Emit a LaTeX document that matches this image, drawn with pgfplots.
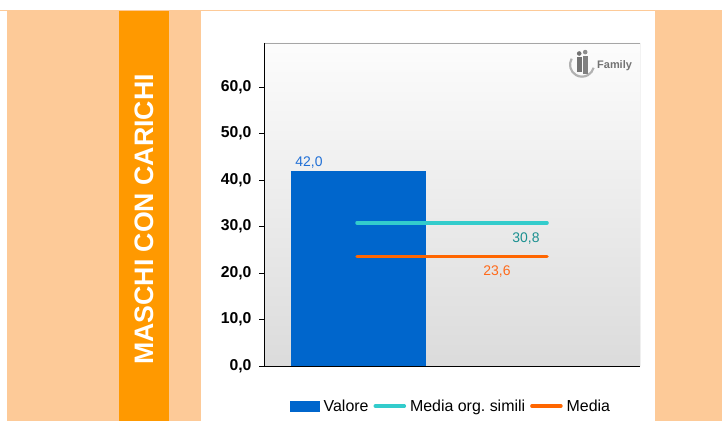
\documentclass[border=0pt]{standalone}
\usepackage{pgfplots}
\pgfplotsset{compat=1.18}
\usepackage{fontspec}
\setmainfont{Liberation Sans}
\frenchspacing
\definecolor{peach}{HTML}{FDCA98}
\definecolor{bandorange}{HTML}{FF9900}
\definecolor{barblue}{HTML}{0066CC}
\definecolor{lcyan}{HTML}{33CCCC}
\definecolor{lorange}{HTML}{FF6600}
\definecolor{tblue}{HTML}{1F6FD6}
\definecolor{tteal}{HTML}{1A9090}
\definecolor{torange}{HTML}{FF6A1A}
\begin{document}
\begin{tikzpicture}[x=1bp,y=1bp]
\path[use as bounding box] (0,0) rectangle (722,421);
\fill[white] (0,0) rectangle (722,421);
\fill[peach] (7,0) rectangle (201,410);
\fill[peach] (655,0) rectangle (722,410);
\fill[bandorange] (119,0) rectangle (169,410);
\draw[peach, line width=1bp] (0,410) -- (722,410);
\node[rotate=90, text=white, font=\bfseries\fontsize{26.8}{27}\selectfont, inner sep=0pt] at (144,201.5) {MASCHI CON CARICHI};
\begin{axis}[
  scale only axis,
  width=376bp, height=323bp,
  at={(264bp,55bp)}, anchor=south west,
  xmin=0, xmax=376, ymin=0, ymax=69.46,
  axis line style={draw=none},
  axis background/.style={top color=black!1, bottom color=black!14},
  xtick=\empty,
  ytick={0,10,20,30,40,50,60},
  ytick pos=left,
  tick align=outside,
  major tick length=5bp,
  ytick style={draw=black, line width=0.8bp},
  /pgf/number format/assume math mode=true,
  yticklabel={\pgfmathprintnumber[fixed,fixed zerofill,precision=1,use comma]{\tick}},
  yticklabel style={font=\bfseries\fontsize{15.8}{16}\selectfont, xshift=-4bp},
  legend columns=3,
  legend style={draw=none, fill=none, at={(0.497,-0.124)}, anchor=center,
    font=\fontsize{16}{16}\selectfont, inner sep=0pt,
    /tikz/every even column/.append style={column sep=3bp},
    /tikz/every odd column/.append style={column sep=2bp}},
  legend cell align=left,
]
\addplot[ybar, bar width=135, fill=barblue, draw=none,
  legend image code/.code={\fill[barblue] (-1bp,-5.5bp) rectangle (29bp,5.5bp);}]
  coordinates {(94.5,42.0)};
\addlegendentry{Valore\hspace{6bp}}
\addplot[lcyan, line width=3.5bp, line cap=round,
  legend image code/.code={\draw[lcyan, line width=3.5bp, line cap=round] (0bp,0) -- (29bp,0);}]
  coordinates {(93,30.8) (283,30.8)};
\addlegendentry{Media org. simili\hspace{6bp}}
\addplot[lorange, line width=3.5bp, line cap=round,
  legend image code/.code={\draw[lorange, line width=3.5bp, line cap=round] (0bp,0) -- (29bp,0);}]
  coordinates {(93,23.6) (283,23.6)};
\addlegendentry{Media}
\node[text=tblue, font=\fontsize{14}{14}\selectfont] at (axis cs:45,43.7) {42,0};
\node[text=tteal, font=\fontsize{14}{14}\selectfont] at (axis cs:262,27.5) {30,8};
\node[text=torange, font=\fontsize{14}{14}\selectfont] at (axis cs:233,20.4) {23,6};
\draw[black!35, line width=0.8bp] (rel axis cs:0,1) -- (rel axis cs:1,1) -- (rel axis cs:1,0);
\draw[black, line width=1bp] (rel axis cs:0,1) -- (rel axis cs:0,0) -- (rel axis cs:1,0);
\node[text=black!55, font=\bfseries\fontsize{11}{11}\selectfont, anchor=west, inner sep=0pt] at (axis cs:333,64.5) {Family};
\draw[black!30, line width=2.2bp] ([shift={(150:12bp)}]axis cs:318,64.8) arc[start angle=150, end angle=345, radius=12bp];
\fill[black!55] (axis cs:313,63.2) rectangle (axis cs:317.5,66.4);
\fill[black!50] (axis cs:319,62.8) rectangle (axis cs:323.5,66.6);
\fill[black!55] (axis cs:315.2,67.2) circle[radius=2.3bp];
\fill[black!45] (axis cs:321.2,67.5) circle[radius=2.3bp];
\end{axis}
\end{tikzpicture}
\end{document}
